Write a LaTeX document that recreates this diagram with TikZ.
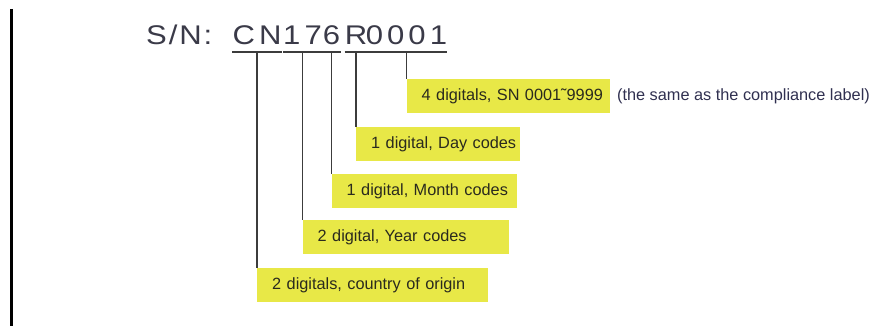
\documentclass[tikz,border=0pt]{standalone}
\usepackage{fontspec}
\setmainfont{Liberation Sans}
\newfontfamily\snfont[FakeStretch=1.15,LetterSpace=15]{Liberation Sans}
\newfontfamily\tagfont[WordSpace=0.6]{Liberation Sans}
\usetikzlibrary{positioning}
\definecolor{cyellow}{HTML}{E8E847}
\definecolor{cink}{HTML}{3A3A48}
\definecolor{ctext}{HTML}{2A2A1E}
\definecolor{cnote}{HTML}{303050}
\definecolor{cline}{HTML}{3C3C3C}
\tikzset{
  every picture/.style={x=1pt, y=-1pt},
  snpart/.style={font=\snfont\fontsize{27}{27}\selectfont, text=cink, inner sep=0pt, anchor=base, minimum width=#1},
  snpart/.default=0pt,
  tag/.style={fill=cyellow, anchor=north west, minimum height=34pt, text width=#1, inner xsep=0pt, inner ysep=0pt,
    align=left, font=\tagfont\fontsize{16.3}{18}\selectfont, text=ctext, execute at begin node=\hspace*{15pt}},
  uline/.style={draw=cline, line width=1.7pt},
  stem/.style={draw=cline, line width=1.3pt},
  note/.style={font=\fontsize{16.3}{18}\selectfont, text=cnote, inner sep=0pt, anchor=west},
}
\begin{document}
\begin{tikzpicture}
  \useasboundingbox (0,0) rectangle (893,326);
  \draw[line width=3pt] (11.5,9) -- (11.5,326);
  \node[snpart, anchor=base west, font=\snfont\fontsize{27}{27}\selectfont\addfontfeature{LetterSpace=7}] (sn) at (146,45) {S/N:};
  % digit groups with their underlines
  \foreach \nm/\x/\w/\txt in {cn/257/38pt/CN, yr/302.5/29pt/17, mo/331.5/19pt/6, dy/356/22pt/R, sq/406.5/71pt/0001} {
    \node[snpart=\w] (\nm) at (\x,45) {\txt};
    \draw[uline] ([yshift=-7pt]\nm.base west) -- ([yshift=-7pt]\nm.base east);
  }
  % yellow labels, hung from the stems
  \foreach \nm/\y/\tw/\lab in {sq/79/203pt/{4 digitals, SN 0001˜9999}, dy/127/164pt/{1 digital, Day codes},
      mo/174/185pt/{1 digital, Month codes}, yr/220/206pt/{2 digital, Year codes}, cn/268/231pt/{2 digitals, country of origin}} {
    \node[tag=\tw] (box-\nm) at (\nm.base |- 0,\y) {\lab};
    \draw[stem] ([yshift=-7pt]\nm.base) -- (box-\nm.north west);
  }
  \node[note, right=7pt of box-sq] (same) {(the same as the compliance label)};
\end{tikzpicture}
\end{document}
